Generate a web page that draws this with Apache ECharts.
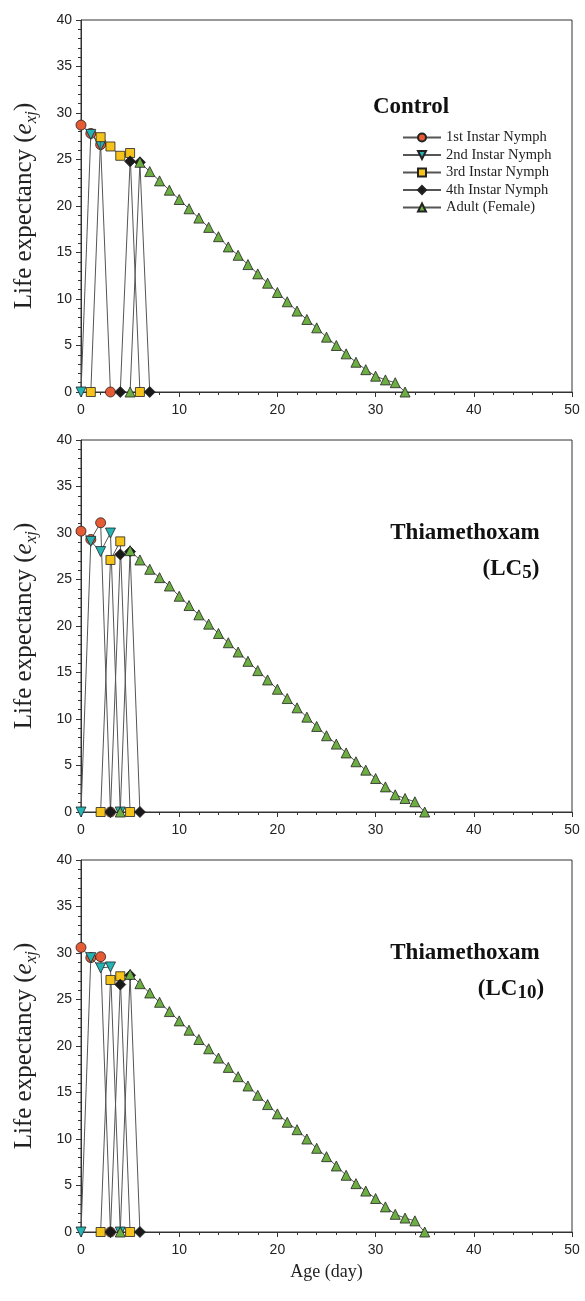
<!DOCTYPE html>
<html>
<head>
<meta charset="utf-8">
<script src="https://cdn.jsdelivr.net/npm/echarts@6/dist/echarts.min.js"></script>
<style>
html,body{margin:0;padding:0;background:#fff;}
#c{width:585px;height:1301px;}
</style>
</head>
<body>
<div id="c"></div>
<script>
// ---- Data: [age (day), life expectancy e_xj] ----
const stageNames = ['1st Instar Nymph','2nd Instar Nymph','3rd Instar Nymph','4th Instar Nymph','Adult (Female)'];
const xTicks = [0,10,20,30,40,50];
const yTicks = [0,5,10,15,20,25,30,35,40];

// Control
const ctrl1st = [[0,28.7],[1,27.8],[2,26.6],[3,0]];
const ctrl2nd = [[0,0],[1,27.7],[2,26.5]];
const ctrl3rd = [[1,0],[2,27.4],[3,26.4],[4,25.4],[5,25.7],[6,0]];
const ctrl4th = [[4,0],[5,24.8],[6,24.7],[7,0]];
const ctrlAdult = [[5,0],[6,24.7],[7,23.7],[8,22.7],[9,21.7],[10,20.7],[11,19.7],[12,18.7],[13,17.7],[14,16.7],[15,15.6],[16,14.7],[17,13.7],[18,12.7],[19,11.7],[20,10.7],[21,9.7],[22,8.7],[23,7.8],[24,6.9],[25,5.9],[26,5.0],[27,4.1],[28,3.2],[29,2.4],[30,1.7],[31,1.3],[32,1.0],[33,0]];

// Thiamethoxam LC5
const lc5_1st = [[0,30.2],[1,29.3],[2,31.1],[3,0]];
const lc5_2nd = [[0,0],[1,29.1],[2,28.0],[3,30.0],[4,0]];
const lc5_3rd = [[2,0],[3,27.1],[4,29.1],[5,0]];
const lc5_4th = [[3,0],[4,27.7],[5,28.0],[6,0]];
const lc5Adult = [[4,0],[5,28.1],[6,27.1],[7,26.1],[8,25.2],[9,24.3],[10,23.2],[11,22.2],[12,21.2],[13,20.2],[14,19.2],[15,18.2],[16,17.2],[17,16.2],[18,15.2],[19,14.2],[20,13.2],[21,12.2],[22,11.2],[23,10.2],[24,9.2],[25,8.2],[26,7.3],[27,6.35],[28,5.4],[29,4.5],[30,3.6],[31,2.7],[32,1.85],[33,1.45],[34,1.1],[35,0]];

// Thiamethoxam LC10
const lc10_1st = [[0,30.6],[1,29.5],[2,29.6],[3,0]];
const lc10_2nd = [[0,0],[1,29.5],[2,28.4],[3,28.5],[4,0]];
const lc10_3rd = [[2,0],[3,27.1],[4,27.5],[5,0]];
const lc10_4th = [[3,0],[4,26.6],[5,27.6],[6,0]];
const lc10Adult = [[4,0],[5,27.7],[6,26.7],[7,25.7],[8,24.7],[9,23.7],[10,22.7],[11,21.7],[12,20.7],[13,19.7],[14,18.7],[15,17.7],[16,16.7],[17,15.7],[18,14.7],[19,13.7],[20,12.7],[21,11.8],[22,11.0],[23,10.0],[24,9.0],[25,8.1],[26,7.1],[27,6.1],[28,5.2],[29,4.4],[30,3.6],[31,2.7],[32,1.9],[33,1.5],[34,1.2],[35,0]];

const panels = [
  [ctrl1st, ctrl2nd, ctrl3rd, ctrl4th, ctrlAdult],
  [lc5_1st, lc5_2nd, lc5_3rd, lc5_4th, lc5Adult],
  [lc10_1st, lc10_2nd, lc10_3rd, lc10_4th, lc10Adult]
];

// ---- Styles ----
const symbols = ['circle','triangle','rect','diamond','triangle'];
const rotates = [0,180,0,0,0];
const sizes = [10,10,9,11,10];
const fills = ['#E65A34','#25B4B6','#F5C31A','#1a1a1a','#6DAE42'];
const serif = '"Liberation Serif","Times New Roman",serif';
const sans = '"Liberation Sans",Arial,sans-serif';

const tops = [20, 440, 860];
const H = 372;

const grids = [], xAxes = [], yAxes = [], series = [];
tops.forEach((t, i) => {
  grids.push({left: 80, right: 13, top: t, height: H, show: true, borderColor: '#333', borderWidth: 1, backgroundColor: 'transparent'});
  xAxes.push({
    type: 'value', gridIndex: i, min: xTicks[0], max: xTicks[xTicks.length-1], interval: 10,
    axisLine: {lineStyle: {color: '#333', width: 1}},
    axisTick: {show: true, length: 5, lineStyle: {color: '#333'}},
    minorTick: {show: true, splitNumber: 5, length: 3, lineStyle: {color: '#333'}},
    splitLine: {show: false},
    axisLabel: {fontFamily: sans, fontSize: 14, color: '#222', margin: 11},
    name: i === 2 ? 'Age (day)' : '', nameLocation: 'middle', nameGap: 31,
    nameTextStyle: {fontFamily: serif, fontSize: 18, color: '#222'}
  });
  yAxes.push({
    type: 'value', gridIndex: i, min: yTicks[0], max: yTicks[yTicks.length-1], interval: 5,
    axisLine: {lineStyle: {color: '#333', width: 1}},
    axisTick: {show: true, length: 5, lineStyle: {color: '#333'}},
    minorTick: {show: true, splitNumber: 5, length: 3, lineStyle: {color: '#333'}},
    splitLine: {show: false},
    axisLabel: {fontFamily: sans, fontSize: 14, color: '#222', margin: 9},
    name: 'Life expectancy ({i|e}{s|xj})', nameLocation: 'middle', nameGap: 41,
    nameTextStyle: {
      fontFamily: serif, fontSize: 25, color: '#222', lineHeight: 32,
      rich: {
        i: {fontFamily: serif, fontSize: 25, fontStyle: 'italic', color: '#222', lineHeight: 32},
        s: {fontFamily: serif, fontSize: 17, fontStyle: 'italic', color: '#222', lineHeight: 32, verticalAlign: 'bottom', padding: [10,0,0,0]}
      }
    }
  });
  panels[i].forEach((d, k) => {
    series.push({
      name: stageNames[k], type: 'line', xAxisIndex: i, yAxisIndex: i, data: d,
      symbol: symbols[k], symbolRotate: rotates[k], symbolSize: sizes[k], showAllSymbol: true,
      lineStyle: {color: '#555', width: 1},
      itemStyle: {color: fills[k], borderColor: '#222', borderWidth: 0.8},
      emphasis: {disabled: true}, animation: false, z: 2 + k
    });
  });
});

const titleStyle = {fontFamily: serif, fontSize: 23, fontWeight: 'bold', color: '#111'};
const subStyle = Object.assign({}, titleStyle, {lineHeight: 28, rich: {s: {fontFamily: serif, fontSize: 19, fontWeight: 'bold', color: '#111', verticalAlign: 'bottom', lineHeight: 28, padding:[8,0,0,0]}}});
const titles = [
  {text: 'Control', left: 406, top: 91, textAlign: 'center', textStyle: titleStyle},
  {text: 'Thiamethoxam', left: 460, top: 517, textAlign: 'center', textStyle: titleStyle},
  {text: '(LC{s|5})', left: 506, top: 550, textAlign: 'center', textStyle: subStyle},
  {text: 'Thiamethoxam', left: 460, top: 937, textAlign: 'center', textStyle: titleStyle},
  {text: '(LC{s|10})', left: 506, top: 970, textAlign: 'center', textStyle: subStyle}
];

const chart = echarts.init(document.getElementById('c'), null, {renderer: 'canvas'});
chart.setOption({
  backgroundColor: '#fff',
  animation: false,
  title: titles,
  legend: {
    data: stageNames, orient: 'vertical', left: 397, top: 125,
    itemWidth: 38, itemHeight: 10, itemGap: 2.5,
    textStyle: {fontFamily: serif, fontSize: 14.5, lineHeight: 15, color: '#222'},
    inactiveColor: '#ccc'
  },
  grid: grids, xAxis: xAxes, yAxis: yAxes, series: series
});
</script>
</body>
</html>
